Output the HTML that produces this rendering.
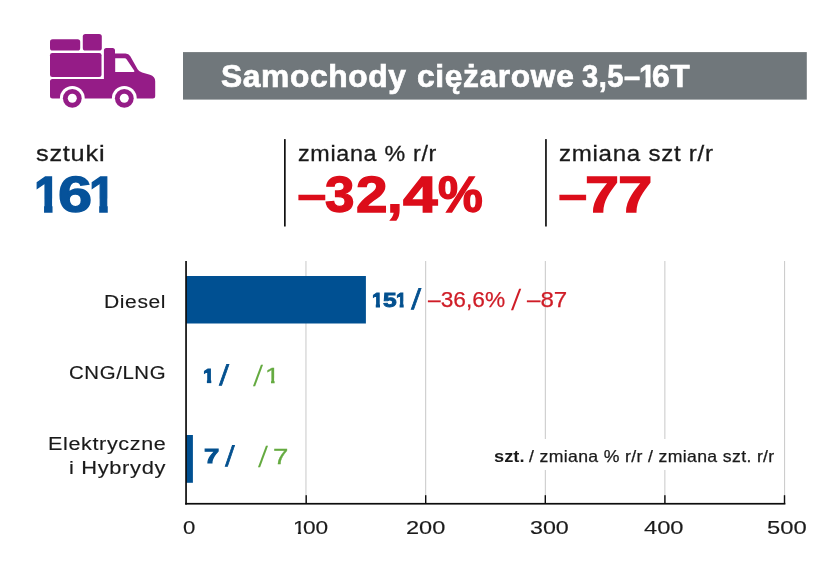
<!DOCTYPE html>
<html lang="pl"><head><meta charset="utf-8"><title>Samochody ciężarowe 3,5–16T</title><style>
html,body{margin:0;padding:0;background:#fff;}
body{width:835px;height:579px;position:relative;overflow:hidden;font-family:"Liberation Sans",sans-serif;}
.box{position:absolute;}
.t{white-space:nowrap;line-height:1;transform-origin:0 0;margin:0;}
div.t{position:absolute;}
.g{position:absolute;left:0;top:0;margin:0;white-space:nowrap;line-height:1;font-size:10px;}
.g .t{display:inline-block;width:0;position:relative;vertical-align:top;}
</style></head><body>
<svg class="box" style="left:0;top:0;" width="835" height="579" viewBox="0 0 835 579">
<!-- title bar -->
<rect x="183" y="52.1" width="623.8" height="47.5" fill="#70777b"/>
<!-- separators -->
<rect x="284" y="139.1" width="1.7" height="87.4" fill="#111"/>
<rect x="545.1" y="139.1" width="1.7" height="87.4" fill="#111"/>
<!-- gridlines -->
<g fill="#cdcdcd">
<rect x="305.4" y="261" width="1.1" height="242"/>
<rect x="425.1" y="261" width="1.1" height="242"/>
<rect x="544.8" y="261" width="1.1" height="242"/>
<rect x="664.3" y="261" width="1.1" height="242"/>
<rect x="784" y="261" width="1.1" height="242"/>
</g>
<!-- legend background -->
<rect x="490" y="439" width="289" height="31" fill="#fff"/>
<!-- bars -->
<rect x="186" y="276" width="179.9" height="47.5" fill="#005092"/>
<rect x="186" y="435" width="6.9" height="47.8" fill="#005092"/>
<!-- axes -->
<g fill="#0d0d0d">
<rect x="185.2" y="261" width="1.7" height="243.6"/>
<rect x="185.2" y="502.9" width="600.2" height="1.7"/>
<rect x="305.5" y="495.2" width="1.4" height="8.3"/>
<rect x="425" y="495.2" width="1.4" height="8.3"/>
<rect x="544.6" y="495.2" width="1.4" height="8.3"/>
<rect x="664.2" y="495.2" width="1.4" height="8.3"/>
<rect x="783.8" y="495.2" width="1.4" height="8.3"/>
</g>
<!-- truck icon -->
<g fill="#951c87">
<rect x="82.8" y="34" width="19" height="16.5" rx="2.6"/>
<rect x="50" y="39.2" width="30.2" height="11.4" rx="2.6"/>
<rect x="50" y="53" width="51.5" height="24" rx="2.2"/>
<path d="M103.9 78.9 V50.6 a2.5 2.5 0 0 1 2.5 -2.5 h6.1 a2.5 2.5 0 0 1 2.5 2.5 V53.4 H125.5 q3.2 0 4.8 2.8 L137.6 69.2 q1.5 2.6 4.5 3.3 L149.9 74.8 q5.3 1.5 5.3 6.5 V96 a2.5 2.5 0 0 1 -2.5 2.5 H52.5 a2.5 2.5 0 0 1 -2.5 -2.5 V81.4 a2.5 2.5 0 0 1 2.5 -2.5 Z"/>
</g>
<path d="M115.2 58.3 H124.6 q1.4 0 2.1 1.2 L134.3 70.8 q0.6 1.1 -0.7 1.1 H115.2 Z" fill="#fff"/>
<circle cx="72.3" cy="98.3" r="12.4" fill="#fff"/>
<circle cx="124.3" cy="98.3" r="12.4" fill="#fff"/>
<circle cx="72.3" cy="98.3" r="9.4" fill="#951c87"/>
<circle cx="124.3" cy="98.3" r="9.4" fill="#951c87"/>
<circle cx="72.3" cy="98.3" r="4.5" fill="#fff"/>
<circle cx="124.3" cy="98.3" r="4.5" fill="#fff"/>
</svg>

<div class="g"><span class="t" id="t1" style="left:221.31px;top:60.86px;font-size:31px;font-weight:700;color:#fff;transform:scaleX(1.0240);letter-spacing:0.02em;-webkit-text-stroke:0.7px #fff;">Samochody</span> <span class="t" id="t2" style="left:413.81px;top:60.86px;font-size:31px;font-weight:700;color:#fff;transform:scaleX(1.0239);letter-spacing:0.02em;-webkit-text-stroke:0.7px #fff;">ciężarowe</span> <span class="t" id="t3" style="left:576.89px;top:60.86px;font-size:31px;font-weight:700;color:#fff;transform:scaleX(0.9356);letter-spacing:0.02em;-webkit-text-stroke:0.7px #fff;">3,5–</span><span class="t" id="t4" style="left:633.19px;top:60.86px;font-size:31px;font-weight:700;color:#fff;transform:scaleX(0.9653);letter-spacing:0.02em;-webkit-text-stroke:0.7px #fff;clip-path:polygon(-1em -1em,2em -1em,2em calc(0.5667em),calc(0.3706em + 0.75px) calc(0.5667em),calc(0.3706em + 0.75px) calc(0.8467em + 0.85px),calc(0.2334em - 0.75px) calc(0.8467em + 0.85px),calc(0.2334em - 0.75px) calc(0.5667em),-1em calc(0.5667em));">1</span><span class="t" id="t5" style="left:646.35px;top:60.86px;font-size:31px;font-weight:700;color:#fff;transform:scaleX(1.0233);letter-spacing:0.02em;-webkit-text-stroke:0.7px #fff;">6T</span></div>
<div class="t" id="l1" style="left:36.43px;top:143.13px;font-size:21.7px;font-weight:400;color:#1a1a1a;transform:scaleX(1.1671);letter-spacing:0.03em;-webkit-text-stroke:0.3px #1a1a1a;">sztuki</div>
<div class="g"><span class="t" id="n1a" style="left:34.03px;top:170.07px;font-size:50px;font-weight:700;color:#06529a;transform:scaleX(0.9464);-webkit-text-stroke:1.3px #06529a;clip-path:polygon(-1em -1em,2em -1em,2em calc(0.5667em),calc(0.3706em + 1.05px) calc(0.5667em),calc(0.3706em + 1.05px) calc(0.8467em + 1.15px),calc(0.2334em - 1.05px) calc(0.8467em + 1.15px),calc(0.2334em - 1.05px) calc(0.5667em),-1em calc(0.5667em));">1</span><span class="t" id="n1b" style="left:58.37px;top:170.07px;font-size:50px;font-weight:700;color:#06529a;transform:scaleX(1.2280);-webkit-text-stroke:1.3px #06529a;">6</span><span class="t" id="n1c" style="left:89.48px;top:170.07px;font-size:50px;font-weight:700;color:#06529a;transform:scaleX(0.9580);-webkit-text-stroke:1.3px #06529a;clip-path:polygon(-1em -1em,2em -1em,2em calc(0.5667em),calc(0.3706em + 1.05px) calc(0.5667em),calc(0.3706em + 1.05px) calc(0.8467em + 1.15px),calc(0.2334em - 1.05px) calc(0.8467em + 1.15px),calc(0.2334em - 1.05px) calc(0.5667em),-1em calc(0.5667em));">1</span></div>
<div class="t" id="l2" style="left:297.92px;top:143.13px;font-size:21.7px;font-weight:400;color:#1a1a1a;transform:scaleX(1.0733);letter-spacing:0.03em;-webkit-text-stroke:0.3px #1a1a1a;">zmiana % r/r</div>
<div class="g"><span class="t" id="n2a" style="left:297.12px;top:169.47px;font-size:50px;font-weight:700;color:#dc0d1a;transform:scaleX(1.0686);-webkit-text-stroke:0.3px #dc0d1a;">–</span><span class="t" id="n2b" style="left:324.86px;top:170.07px;font-size:50px;font-weight:700;color:#dc0d1a;transform:scaleX(1.0617);-webkit-text-stroke:1.3px #dc0d1a;">3</span><span class="t" id="n2c" style="left:356.14px;top:170.07px;font-size:50px;font-weight:700;color:#dc0d1a;transform:scaleX(1.1347);-webkit-text-stroke:1.3px #dc0d1a;">2</span><span class="t" id="n2d" style="left:387.38px;top:170.07px;font-size:50px;font-weight:700;color:#dc0d1a;transform:scaleX(1.1257);-webkit-text-stroke:1.3px #dc0d1a;">,</span><span class="t" id="n2e" style="left:402.93px;top:170.07px;font-size:50px;font-weight:700;color:#dc0d1a;transform:scaleX(1.2451);-webkit-text-stroke:1.3px #dc0d1a;">4</span><span class="t" id="n2f" style="left:438.17px;top:170.07px;font-size:50px;font-weight:700;color:#dc0d1a;transform:scaleX(1.0090);-webkit-text-stroke:1.3px #dc0d1a;">%</span></div>
<div class="t" id="l3" style="left:559.31px;top:143.13px;font-size:21.7px;font-weight:400;color:#1a1a1a;transform:scaleX(1.1104);letter-spacing:0.03em;-webkit-text-stroke:0.3px #1a1a1a;">zmiana szt r/r</div>
<div class="g"><span class="t" id="n3a" style="left:557.94px;top:169.47px;font-size:50px;font-weight:700;color:#dc0d1a;transform:scaleX(1.0647);-webkit-text-stroke:0.3px #dc0d1a;">–</span><span class="t" id="n3b" style="left:584.90px;top:170.07px;font-size:50px;font-weight:700;color:#dc0d1a;transform:scaleX(1.2243);-webkit-text-stroke:1.3px #dc0d1a;">7</span><span class="t" id="n3c" style="left:617.80px;top:170.07px;font-size:50px;font-weight:700;color:#dc0d1a;transform:scaleX(1.2362);-webkit-text-stroke:1.3px #dc0d1a;">7</span></div>
<div class="t" id="c1" style="left:103.58px;top:292.13px;font-size:19.1px;font-weight:400;color:#1a1a1a;transform:scaleX(1.0995);letter-spacing:0.03em;-webkit-text-stroke:0.15px #1a1a1a;">Diesel</div>
<div class="g"><span class="t" id="v1a" style="left:372.06px;top:289.32px;font-size:21px;font-weight:700;color:#03508f;transform:scaleX(0.9300);-webkit-text-stroke:0.9px #03508f;clip-path:polygon(-1em -1em,2em -1em,2em calc(0.5667em),calc(0.3706em + 0.85px) calc(0.5667em),calc(0.3706em + 0.85px) calc(0.8467em + 0.95px),calc(0.2334em - 0.85px) calc(0.8467em + 0.95px),calc(0.2334em - 0.85px) calc(0.5667em),-1em calc(0.5667em));">1</span><span class="t" id="v1a2" style="left:382.69px;top:289.32px;font-size:21px;font-weight:700;color:#03508f;transform:scaleX(1.1738);-webkit-text-stroke:0.9px #03508f;">5</span><span class="t" id="v1a3" style="left:396.20px;top:289.32px;font-size:21px;font-weight:700;color:#03508f;transform:scaleX(0.8900);-webkit-text-stroke:0.9px #03508f;clip-path:polygon(-1em -1em,2em -1em,2em calc(0.5667em),calc(0.3706em + 0.85px) calc(0.5667em),calc(0.3706em + 0.85px) calc(0.8467em + 0.95px),calc(0.2334em - 0.85px) calc(0.8467em + 0.95px),calc(0.2334em - 0.85px) calc(0.5667em),-1em calc(0.5667em));">1</span> <span class="t" id="v1s1" style="left:410.33px;top:285.14px;font-size:28.3px;font-weight:400;color:#03508f;transform:matrix(1.0624,0,-0.07,1,0,0);-webkit-text-stroke:0.8px #03508f;">/</span> <span class="t" id="v1b" style="left:422.82px;top:289.45px;font-size:22.5px;font-weight:400;color:#cf1d27;transform:scaleX(1.0102);-webkit-text-stroke:0.25px #cf1d27;">–36,6%</span> <span class="t" id="v1s2" style="left:506.01px;top:284.93px;font-size:29.5px;font-weight:400;color:#cf1d27;transform:matrix(0.9401,0,-0.117,1,0,0);">/</span> <span class="t" id="v1c" style="left:516.02px;top:289.45px;font-size:22.5px;font-weight:400;color:#cf1d27;transform:scaleX(1.0718);-webkit-text-stroke:0.25px #cf1d27;">–87</span></div>
<div class="t" id="c2" style="left:68.51px;top:363.23px;font-size:19.1px;font-weight:400;color:#1a1a1a;transform:scaleX(1.0678);letter-spacing:0.03em;-webkit-text-stroke:0.15px #1a1a1a;">CNG/LNG</div>
<div class="g"><span class="t" id="v2a" style="left:203.05px;top:364.62px;font-size:21px;font-weight:700;color:#03508f;transform:scaleX(0.9606);-webkit-text-stroke:0.9px #03508f;clip-path:polygon(-1em -1em,2em -1em,2em calc(0.5667em),calc(0.3706em + 0.85px) calc(0.5667em),calc(0.3706em + 0.85px) calc(0.8467em + 0.95px),calc(0.2334em - 0.85px) calc(0.8467em + 0.95px),calc(0.2334em - 0.85px) calc(0.5667em),-1em calc(0.5667em));">1</span> <span class="t" id="v2b" style="left:218.56px;top:360.64px;font-size:28.3px;font-weight:400;color:#03508f;transform:matrix(1.0509,0,-0.07,1,0,0);-webkit-text-stroke:0.8px #03508f;">/</span> <span class="t" id="v2c" style="left:250.28px;top:360.63px;font-size:29.5px;font-weight:400;color:#64aa40;transform:matrix(0.9192,0,-0.117,1,0,0);">/</span><span class="t" id="v2d" style="left:258.97px;top:364.95px;font-size:22.5px;font-weight:400;color:#64aa40;transform:scaleX(1.1735);-webkit-text-stroke:0.3px #64aa40;clip-path:polygon(-1em -1em,2em -1em,2em calc(0.5667em),calc(0.3398em + 0.55px) calc(0.5667em),calc(0.3398em + 0.55px) calc(0.8467em + 0.65px),calc(0.2515em - 0.55px) calc(0.8467em + 0.65px),calc(0.2515em - 0.55px) calc(0.5667em),-1em calc(0.5667em));">1</span></div>
<div class="t" id="c3a" style="left:47.88px;top:434.13px;font-size:19.1px;font-weight:400;color:#1a1a1a;transform:scaleX(1.1275);letter-spacing:0.03em;-webkit-text-stroke:0.15px #1a1a1a;">Elektryczne</div>
<div class="t" id="c3b" style="left:69.46px;top:458.03px;font-size:19.1px;font-weight:400;color:#1a1a1a;transform:scaleX(1.1452);letter-spacing:0.03em;-webkit-text-stroke:0.15px #1a1a1a;">i Hybrydy</div>
<div class="g"><span class="t" id="v3a" style="left:203.62px;top:445.12px;font-size:21px;font-weight:700;color:#03508f;transform:scaleX(1.3117);-webkit-text-stroke:0.9px #03508f;">7</span> <span class="t" id="v3b" style="left:224.50px;top:441.64px;font-size:28.3px;font-weight:400;color:#03508f;transform:matrix(1.0000,0,-0.07,1,0,0);-webkit-text-stroke:0.8px #03508f;">/</span> <span class="t" id="v3c" style="left:255.59px;top:441.63px;font-size:29.5px;font-weight:400;color:#64aa40;transform:matrix(0.9198,0,-0.117,1,0,0);">/</span><span class="t" id="v3d" style="left:267.38px;top:445.85px;font-size:22.5px;font-weight:400;color:#64aa40;transform:scaleX(1.2276);-webkit-text-stroke:0.3px #64aa40;">7</span></div>
<div class="g"><b class="t" id="lega" style="left:494.45px;top:447.83px;font-size:16.5px;font-weight:700;color:#1a1a1a;transform:scaleX(1.1071);">szt.</b> <span class="t" id="leg" style="left:526.10px;top:447.83px;font-size:16.5px;font-weight:400;color:#1a1a1a;transform:scaleX(1.0693);letter-spacing:0.02em;-webkit-text-stroke:0.25px #1a1a1a;">/ zmiana % r/r / zmiana szt. r/r</span></div>
<div class="t" id="a0" style="left:183.28px;top:517.82px;font-size:19px;font-weight:400;color:#1a1a1a;transform:scaleX(1.1670);-webkit-text-stroke:0.15px #1a1a1a;">0</div>
<div class="g"><span class="t" id="a1" style="left:293.05px;top:517.82px;font-size:19px;font-weight:400;color:#1a1a1a;transform:scaleX(1.1564);-webkit-text-stroke:0.15px #1a1a1a;clip-path:polygon(-1em -1em,2em -1em,2em calc(0.5667em),calc(0.3398em + 0.55px) calc(0.5667em),calc(0.3398em + 0.55px) calc(0.8467em + 0.65px),calc(0.2515em - 0.55px) calc(0.8467em + 0.65px),calc(0.2515em - 0.55px) calc(0.5667em),-1em calc(0.5667em));">1</span><span class="t" id="a1b" style="left:302.85px;top:517.82px;font-size:19px;font-weight:400;color:#1a1a1a;transform:scaleX(1.1927);-webkit-text-stroke:0.15px #1a1a1a;">00</span></div>
<div class="t" id="a2" style="left:406.24px;top:517.82px;font-size:19px;font-weight:400;color:#1a1a1a;transform:scaleX(1.2398);-webkit-text-stroke:0.15px #1a1a1a;">200</div>
<div class="t" id="a3" style="left:529.73px;top:517.82px;font-size:19px;font-weight:400;color:#1a1a1a;transform:scaleX(1.2225);-webkit-text-stroke:0.15px #1a1a1a;">300</div>
<div class="t" id="a4" style="left:643.70px;top:517.82px;font-size:19px;font-weight:400;color:#1a1a1a;transform:scaleX(1.2466);-webkit-text-stroke:0.15px #1a1a1a;">400</div>
<div class="t" id="a5" style="left:767.13px;top:517.82px;font-size:19px;font-weight:400;color:#1a1a1a;transform:scaleX(1.2515);-webkit-text-stroke:0.15px #1a1a1a;">500</div>
</body></html>
